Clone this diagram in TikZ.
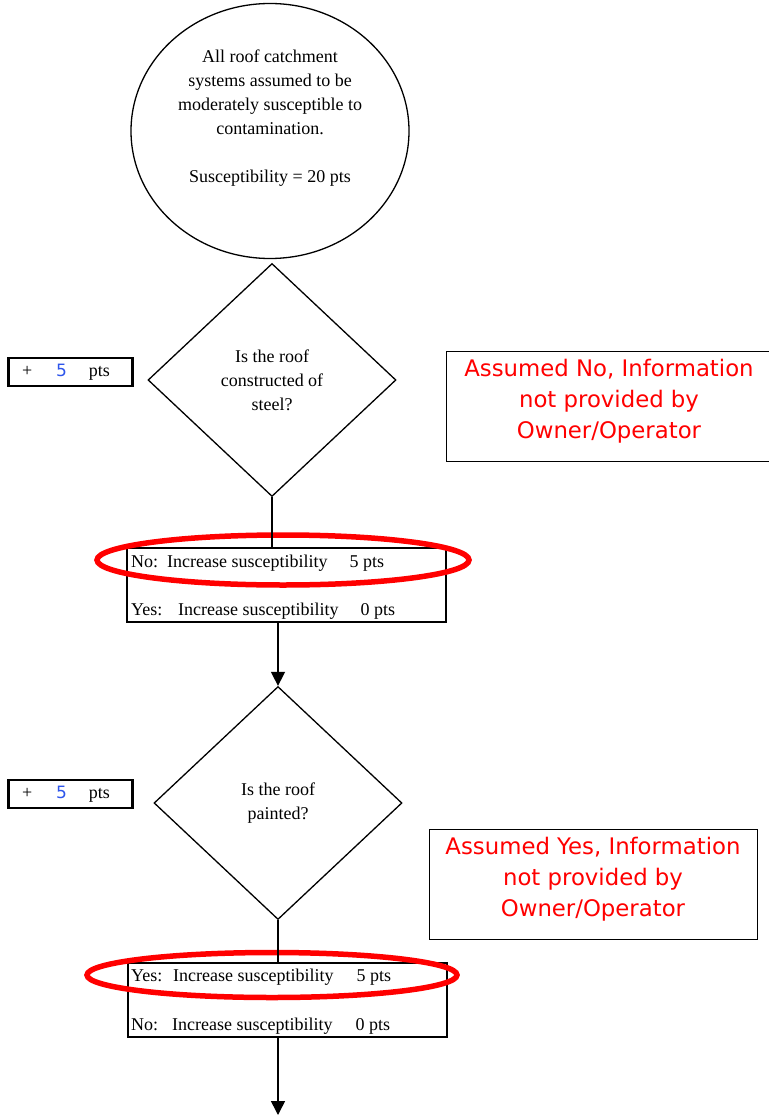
\documentclass[tikz,border=0pt]{standalone}
\usepackage{fontspec}
\setmainfont{Liberation Serif}
\newfontfamily\notefont{DejaVu Sans}
\usetikzlibrary{arrows.meta,shapes.geometric,positioning}
\definecolor{ptsblue}{RGB}{45,85,235}

\begin{document}
\begin{tikzpicture}[x=1pt, y=-1pt, >={Triangle[width=14pt,length=14pt]},
        start/.style={ellipse,draw=black,line width=1.3pt,minimum width=278pt,minimum height=255pt},
        question/.style={diamond,draw=black,line width=1.3pt,minimum width=248pt,minimum height=233pt,
          inner sep=0pt,align=center,font=\fontsize{18}{24}\selectfont},
        points/.style={draw=black,line width=2.2pt,minimum width=124pt,minimum height=28pt,inner sep=0pt,
          text width=97pt,align=left,font=\fontsize{18}{20}\selectfont},
        note/.style={draw=black,line width=1pt,minimum height=110pt},
        notetext/.style={text=red,align=center,font=\notefont\fontsize{22.8}{31}\selectfont},
        answers/.style={draw=black,line width=1.3pt,minimum width=319pt,minimum height=74pt},
        choice/.style={anchor=west,inner sep=0pt,font=\fontsize{18}{20}\selectfont},
        picked/.style={ellipse,draw=red,line width=5.5pt,inner sep=0pt}]
        \useasboundingbox (0,0) rectangle (768,1115);
        % first question
        \node[start] at (270,131) (catch) {};
        \node[align=center,font=\fontsize{18}{24}\selectfont] at (270,118) (catchtext)
          {All roof catchment\\systems assumed to be\\moderately susceptible to\\contamination.\\[24pt]Susceptibility = 20 pts};
        \node[question] at (272,380) (steel) {Is the roof\\constructed of\\steel?};
        \node[points] at (70.5,372) (steelpts)
          {+\hspace{24pt}{\notefont\fontsize{17}{20}\selectfont\color{ptsblue}5}\hspace{22pt}pts};
        \node[note,minimum width=326pt] at (609,406) (steelnote) {};
        \node[notetext] at (609,401) (steelnotetext) {Assumed No, Information\\not provided by\\Owner/Operator};
        \node[answers] at (286.5,585) (steelans) {};
        \node[choice] at (131,563) (steelno)
          {\makebox[36pt][l]{No:}Increase susceptibility\hspace{22pt}5 pts};
        \node[choice] at (131,611) (steelyes)
          {\makebox[47pt][l]{Yes:}Increase susceptibility\hspace{22pt}0 pts};
        \node[picked,minimum width=372pt,minimum height=50pt] at (283,560) (steelpick) {};
        \draw[line width=1.5pt] (steel.south) -- (steel.south |- steelans.north);
        % second question
        \node[question] at (278,803) (paint) {Is the roof\\painted?};
        \node[points] at (70.5,794) (paintpts)
          {+\hspace{24pt}{\notefont\fontsize{17}{20}\selectfont\color{ptsblue}5}\hspace{22pt}pts};
        \node[note,minimum width=328pt] at (593,884) (paintnote) {};
        \node[notetext] at (593,879) (paintnotetext) {Assumed Yes, Information\\not provided by\\Owner/Operator};
        \node[answers] at (287.5,1000) (paintans) {};
        \node[choice] at (131,977) (paintyes)
          {\makebox[42pt][l]{Yes:}Increase susceptibility\hspace{23pt}5 pts};
        \node[choice] at (131,1026) (paintno)
          {\makebox[41pt][l]{No:}Increase susceptibility\hspace{23pt}0 pts};
        \node[picked,minimum width=370pt,minimum height=45pt] at (272,975) (paintpick) {};
        \draw[line width=1.5pt,->] (steelans.south -| paint.north) -- (paint.north);
        \draw[line width=1.5pt] (paint.south) -- (paint.south |- paintans.north);
        \coordinate (next) at (278,1115);
        \draw[line width=1.5pt,->] (paintans.south -| next) -- (next);
      \end{tikzpicture}
\end{document}
